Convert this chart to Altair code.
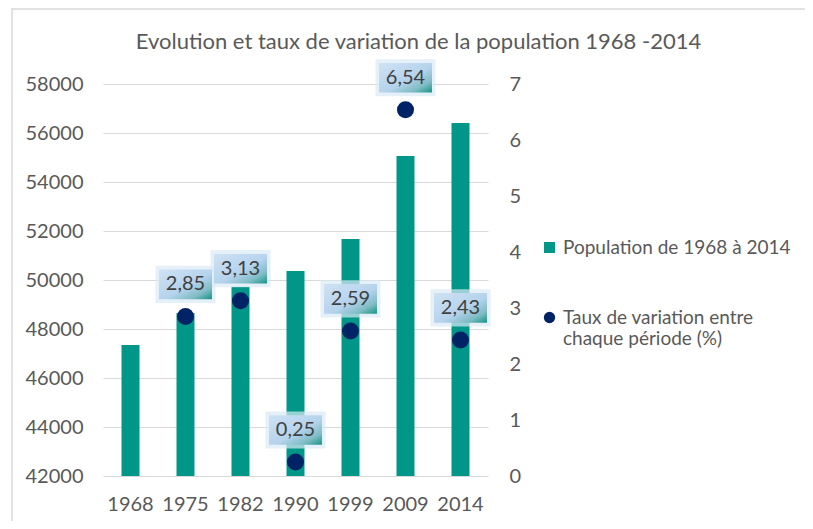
import altair as alt
import pandas as pd

years = ["1968", "1975", "1982", "1990", "1999", "2009", "2014"]
population = [47350, 48650, 49720, 50370, 51670, 55060, 56410]
rates = [None, 2.85, 3.13, 0.25, 2.59, 6.54, 2.43]

pop_ticks = [42000, 44000, 46000, 48000, 50000, 52000, 54000, 56000, 58000]
rate_ticks = [0, 1, 2, 3, 4, 5, 6, 7]

TITLE = "Evolution et taux de variation de la population 1968 -2014"
POP_NAME = "Population de 1968 à 2014"
RATE_NAME = "Taux de variation entre\nchaque période (%)"

TEAL = "#009688"
NAVY = "#002366"
GREY = "#595959"
FONT = "Lato"

df = pd.DataFrame({"year": years, "pop": population, "rate": rates})
df["s1"] = POP_NAME
df["s2"] = RATE_NAME

x_enc = alt.X("year:N", sort=years, title=None,
              scale=alt.Scale(paddingInner=0, paddingOuter=0),
              axis=alt.Axis(labelAngle=0, ticks=False, domain=False,
                            labelPadding=18, labelFontSize=20,
                            labelColor=GREY, labelFont=FONT))

bars = alt.Chart(df).mark_bar(size=18).encode(
    x=x_enc,
    y=alt.Y("pop:Q", title=None,
            scale=alt.Scale(domain=[42000, 58000], zero=False, nice=False),
            axis=alt.Axis(values=pop_ticks, format="d", orient="left",
                          ticks=False, domain=False, grid=True,
                          gridColor="#d9d9d9", gridWidth=1,
                          labelPadding=20, labelFontSize=20,
                          labelColor=GREY, labelFont=FONT)),
    y2=alt.datum(42000),
    color=alt.Color("s1:N", scale=alt.Scale(domain=[POP_NAME], range=[TEAL]),
                    legend=alt.Legend(title=None, orient="none",
                                      legendX=437, legendY=154,
                                      symbolType="square", symbolSize=121,
                                      labelFontSize=19, labelColor=GREY,
                                      labelFont=FONT, labelOffset=4,
                                      labelLimit=400,
                                      padding=0, symbolStrokeWidth=0)),
)

rate_axis = alt.Axis(values=rate_ticks, orient="right", ticks=False,
                     domain=False, grid=False, labelPadding=21,
                     labelFontSize=20, labelColor=GREY, labelFont=FONT)
y_rate = alt.Y("rate:Q", title=None,
               scale=alt.Scale(domain=[0, 7], nice=False), axis=rate_axis)

base = alt.Chart(df).transform_filter("isValid(datum.rate)")

grad = alt.Gradient(
    gradient="linear", x1=0, y1=0, x2=1, y2=1,
    stops=[alt.GradientStop(color="#cfe2f3", offset=0),
           alt.GradientStop(color="#b5d3ed", offset=0.55),
           alt.GradientStop(color="#7fbcc4", offset=0.8),
           alt.GradientStop(color="#139484", offset=1)])

glow = base.mark_point(
    shape="M-1,-0.62H1V0.62H-1Z", size=3600, filled=True,
    fill="#dbe9f6", opacity=0.7, yOffset=-32, strokeWidth=0
).encode(x=alt.X("year:N", sort=years), y=y_rate)

box = base.mark_point(
    shape="M-1,-0.56H1V0.56H-1Z", size=2809, filled=True,
    fill=grad, opacity=1, yOffset=-32, strokeWidth=0
).encode(x=alt.X("year:N", sort=years), y=y_rate)

dots = base.mark_circle(size=290, opacity=1).encode(
    x=alt.X("year:N", sort=years),
    y=y_rate,
    color=alt.Color("s2:N", scale=alt.Scale(domain=[RATE_NAME], range=[NAVY]),
                    legend=alt.Legend(title=None, orient="none",
                                      legendX=437, legendY=224,
                                      symbolType="circle", symbolSize=127,
                                      labelFontSize=19, labelColor=GREY,
                                      labelFont=FONT, labelOffset=4,
                                      padding=0, labelLimit=400,
                                      labelExpr="split(datum.label, '\\n')")),
)

texts = base.transform_calculate(
    lab="replace(format(datum.rate, '.2f'), '.', ',')"
).mark_text(yOffset=-32, fontSize=20, color="#404040", font=FONT,
            baseline="middle").encode(
    x=alt.X("year:N", sort=years), y=y_rate, text="lab:N")

rate_layer = alt.layer(glow, box, dots, texts)

border = alt.Chart(alt.Data(values=[{"k": 1}])).mark_rule(
    color="#d9d9d9", strokeWidth=1.5, clip=False).encode(
    x=alt.value(-91), y=alt.value(-76), y2=alt.value(437))
border_top = alt.Chart(alt.Data(values=[{"k": 1}])).mark_rule(
    color="#d9d9d9", strokeWidth=1.5, clip=False).encode(
    x=alt.value(-91), x2=alt.value(710), y=alt.value(-75))

chart = alt.layer(bars, rate_layer, border, border_top).resolve_scale(
    y="independent", color="independent"
).properties(
    width=385, height=392,
    title=alt.TitleParams(TITLE, fontSize=22, font=FONT, color=GREY,
                          fontWeight="normal", anchor="middle", dx=123,
                          frame="group", baseline="alphabetic", offset=-64),
    padding={"left": 95, "top": 76, "right": 317, "bottom": 45},
    autosize=alt.AutoSizeParams(type="none"),
).configure_view(stroke=None)

chart.save("out.html", embed_options={"renderer": "svg", "actions": False})
